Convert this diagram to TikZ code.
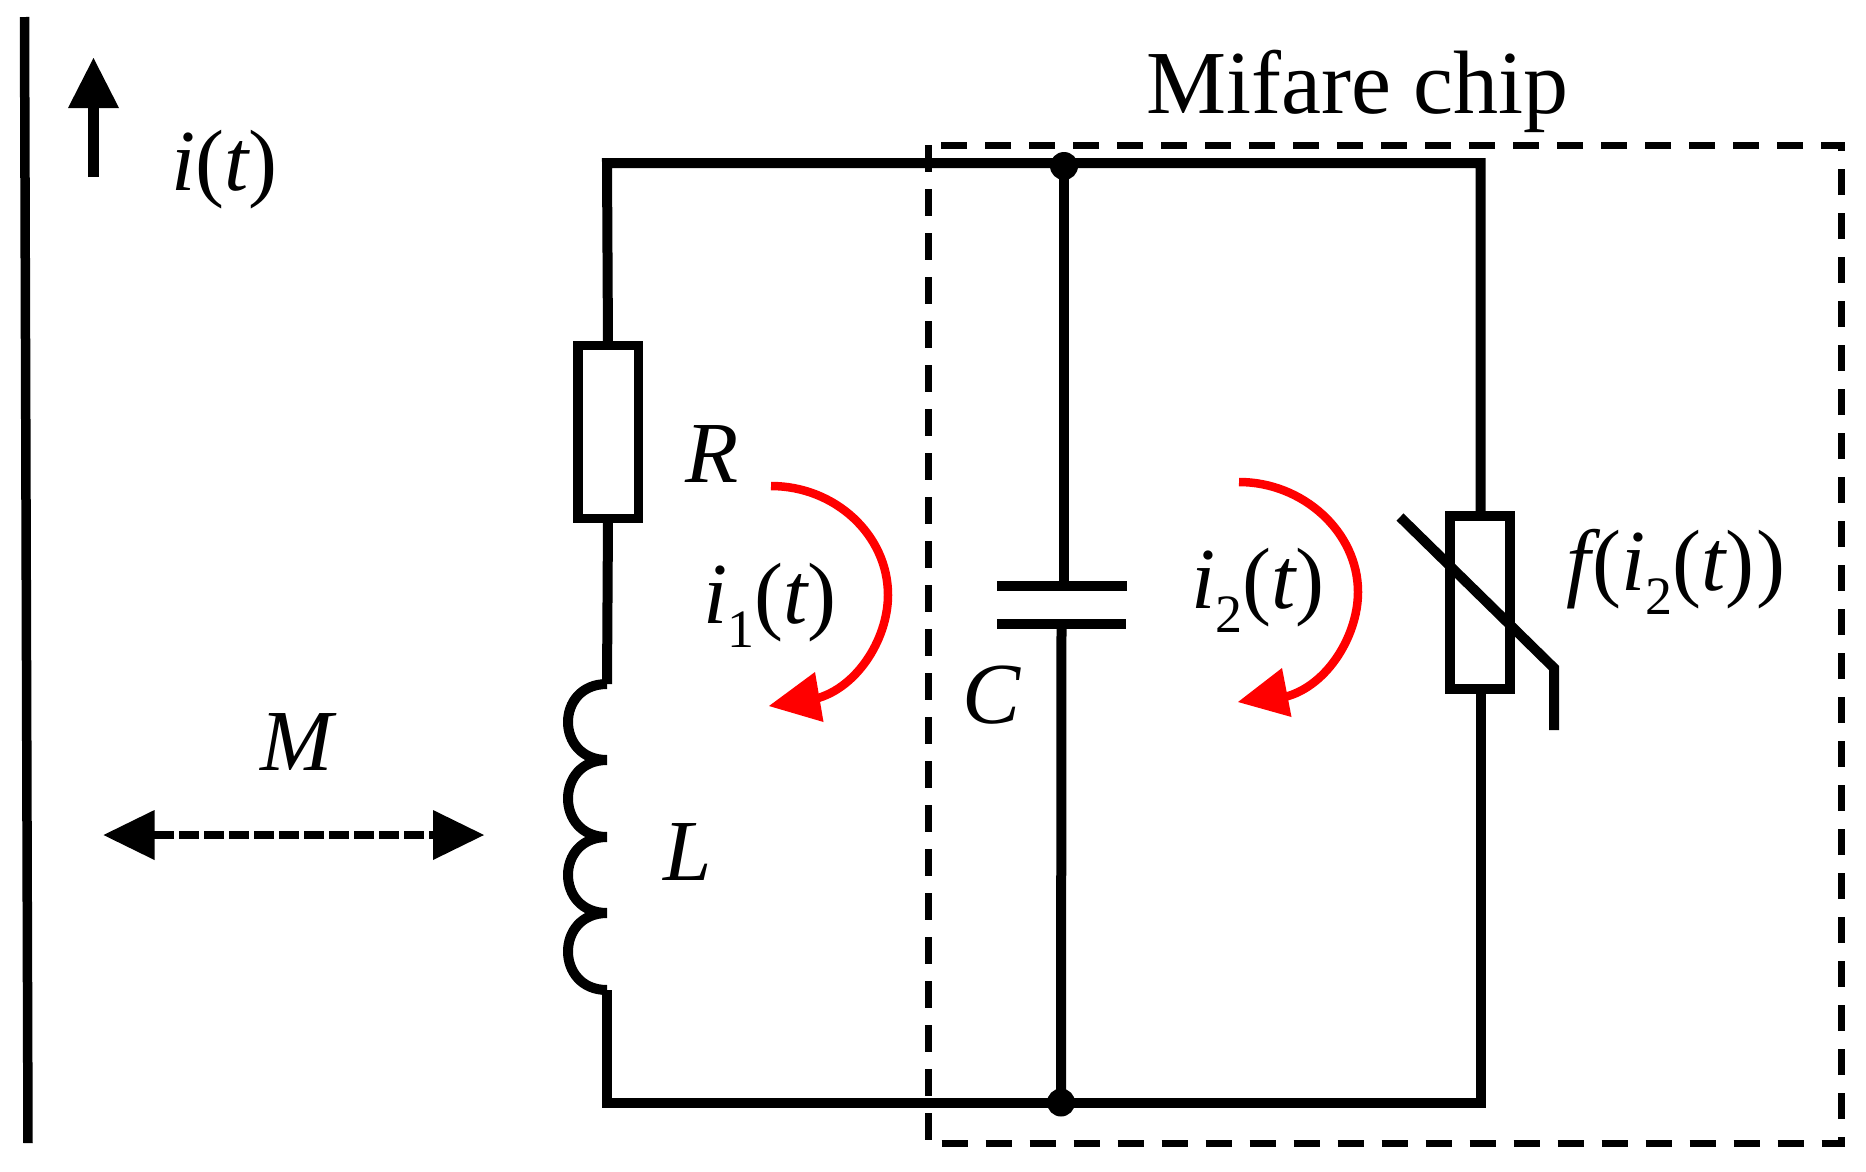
\documentclass[tikz,border=0pt]{standalone}
\usepackage{fontspec}
\setmainfont{Liberation Serif}
\newcommand{\lbl}{\fontsize{87}{100}\selectfont}
\newcommand{\sbs}[1]{\raisebox{-24pt}{\fontsize{54}{60}\selectfont #1}}
\newcommand{\vi}{{\itshape i}}
\newcommand{\vt}{{\itshape t}}
\tikzset{
  wire/.style={line width=10pt,line join=miter},
  part/.style={line width=9.5pt,fill=white},
  redline/.style={line width=8.5pt,color=red},
  redhead/.style={fill=red,draw=none},
  blackhead/.style={fill=black,draw=none},
  chipbox/.style={line width=7pt,dash pattern=on 26.5pt off 17.5pt},
  junction/.style={circle,fill=black,minimum size=28pt,inner sep=0pt},
  label/.style={inner sep=0pt,anchor=base west,font=\lbl}
}
\begin{document}
\begin{tikzpicture}[x=1pt,y=-1pt]
\useasboundingbox (0,0) rectangle (1866,1171);
% named points
\coordinate (tl) at (607,163);
\coordinate (tr) at (1480.5,163);
\coordinate (bl) at (607,1103);
\coordinate (br) at (1480.5,1103);
\coordinate (rtop) at (608,345);
\coordinate (rbot) at (608,519);
\coordinate (l0) at (607,684);
\coordinate (l1) at (607,760);
\coordinate (l2) at (607,837);
\coordinate (l3) at (607,913);
\coordinate (l4) at (607,990);
\coordinate (ctop) at (1064,586);
\coordinate (cbot) at (1061.5,624);
\coordinate (nltop) at (1480.5,516);
\coordinate (nlbot) at (1480.5,689);
% long conductor
\coordinate (cond1) at (24.5,17);
\coordinate (cond2) at (28,1143);
\draw[line width=9.5pt] (cond1) -- (cond2);
% i(t) arrow
\coordinate (ia1) at (93.5,177);
\coordinate (ia2) at (93.5,108);
\draw[line width=11pt] (ia1) -- (ia2);
\fill[blackhead] (93.5,58) -- (119,108) -- (68,108) -- cycle;
% chip box
\draw[chipbox] (928,145) rectangle (1841,1143.5);
% circuit
\node[junction] (jt) at (1064,166) {};
\node[junction] (jb) at (1061,1102.5) {};
\draw[wire] (rtop) -- (tl) -- (tr) -- (nltop);
\draw[wire] (nlbot) -- (br) -- (bl) -- (l4);
\draw[wire] (rbot) -- (l0);
\draw[wire] (l0) .. controls (555,684) and (555,760) .. (l1)
                 .. controls (555,760) and (555,837) .. (l2)
                 .. controls (555,837) and (555,913) .. (l3)
                 .. controls (555,913) and (555,990) .. (l4);
% resistor
\node[part,draw,minimum width=60.5pt,minimum height=173pt,inner sep=0pt] (res) at (608,432) {};
% capacitor
\draw[wire] (jt.center) -- (ctop);
\draw[wire] (cbot) -- (jb.center);
\coordinate (c1a) at (997,586); \coordinate (c1b) at (1127,586);
\coordinate (c2a) at (997,624); \coordinate (c2b) at (1126,624);
\draw[line width=10.5pt] (c1a) -- (c1b);
\draw[line width=10.5pt] (c2a) -- (c2b);
% nonlinear element
\node[part,draw,minimum width=60pt,minimum height=173pt,inner sep=0pt] (nl) at (1480,602.5) {};
\coordinate (s1) at (1400,517); \coordinate (s2) at (1554,668); \coordinate (s3) at (1554,730);
\draw[line width=10pt,line join=miter] (s1) -- (s2) -- (s3);
% red currents
\draw[redline] (771,486) .. controls (835,486) and (888,535) .. (888,595) .. controls (888,640) and (855,692) .. (810,700);
\fill[redhead] (769,706) -- (815,672) -- (823.5,722) -- cycle;
\draw[redline] (1239,482) .. controls (1303,482) and (1358,532) .. (1358,592) .. controls (1358,637) and (1325,690) .. (1280,698);
\fill[redhead] (1238,702) -- (1282,668) -- (1291.5,717) -- cycle;
% mutual inductance
\coordinate (m1) at (154,835); \coordinate (m2) at (433,835);
\draw[line width=8.5pt,dash pattern=on 20pt off 5pt] (m1) -- (m2);
\fill[blackhead] (103.5,835) -- (154.5,810) -- (154.5,860) -- cycle;
\fill[blackhead] (484,835) -- (433,810) -- (433,860) -- cycle;
% labels
\node[label,font=\fontsize{90}{100}\selectfont] (chip) at (1146,113) {Mifare chip};
\node[label] (it) at (171,190) {\vi(\vt)};
\node[label] (R) at (685,482) {\itshape R};
\node[label] (i1) at (703,623) {\vi\sbs{1}(\vt)};
\node[label] (C) at (962,723) {\itshape C};
\node[label] (i2) at (1191,608) {\vi\sbs{2}(\vt)};
\node[label] (f) at (1566,590) {{\itshape f}\kern2pt(\vi\sbs{2}(\vt)\kern2pt)};
\node[label] (M) at (260,770) {\itshape M};
\node[label] (L) at (663,880) {\itshape L};
\end{tikzpicture}
\end{document}
